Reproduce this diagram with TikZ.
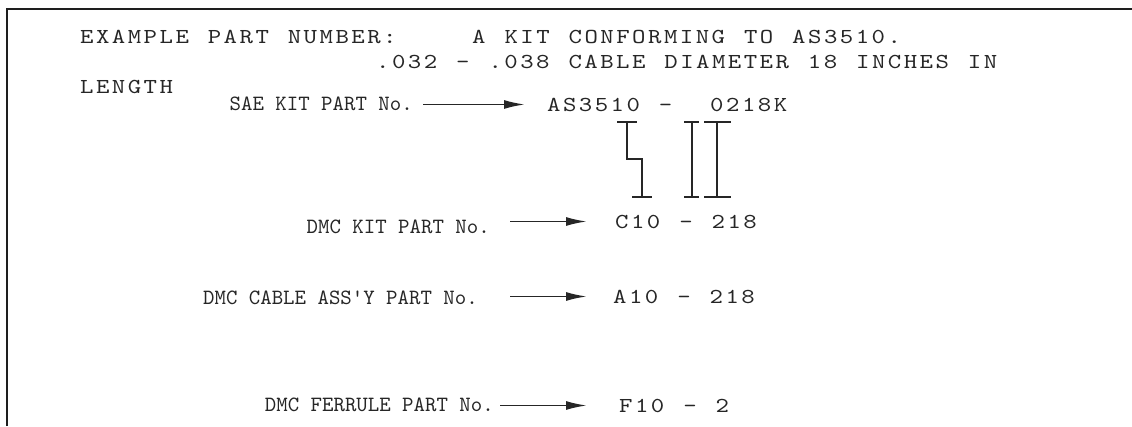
\documentclass[tikz,border=0pt]{standalone}
\usepackage{fontspec}
\usetikzlibrary{arrows.meta}
\newfontfamily\specfont{lmmono10-regular.otf}[FakeStretch=1.2,LetterSpace=11.6,WordSpace=1.19]
\newfontfamily\labelfont{lmmono10-regular.otf}
\definecolor{ink}{HTML}{262626}
\definecolor{frame}{HTML}{1E1E1E}
\tikzset{
  spec/.style={anchor=base west,inner sep=0pt,text=ink,
    font=\specfont\fontsize{21.3}{24}\selectfont},
  partno/.style={spec},
  partlbl/.style={anchor=base east,inner sep=0pt,text=ink,
    font=\labelfont\fontsize{21.8}{24}\selectfont},
  partarrow/.style={draw=ink,line width=1.9pt,-{Latex[length=21pt,width=9pt]}},
  bracket/.style={draw=ink,line width=2.4pt}
}
\begin{document}
\begin{tikzpicture}[x=1pt,y=-1pt]
\useasboundingbox (0,0) rectangle (1132,426);

% Frame
\draw[line width=2.6pt,draw=frame] (7,426) -- (7,9) -- (1132,9);

% Heading
\node[spec] (head1) at (80,43) {EXAMPLE PART NUMBER:~~~~A KIT CONFORMING TO AS3510.};
\node[spec] (head2) at (376,68) {.032 - .038 CABLE DIAMETER 18 INCHES IN};
\node[spec] (head3) at (80,93) {LENGTH};

% Part numbers
\node[partno] (saeno) at (547,111) {AS3510 -~~0218K};
\node[partno] (kitno) at (615,228) {C10 - 218};
\node[partno] (cableno) at (613,303) {A10 - 218};
\node[partno] (ferruleno) at (619,412) {F10 - 2};

% Labels
\node[partlbl] (saelbl) at (413,110) {SAE KIT PART No.};
\node[partlbl] (kitlbl) at (490,233) {DMC KIT PART No.};
\node[partlbl] (cablelbl) at (478,304) {DMC CABLE ASS'Y PART No.};
\node[partlbl] (ferrulelbl) at (494,411) {DMC FERRULE PART No.};

% Arrows
\draw[partarrow,shorten <=10pt,shorten >=22pt] (saelbl.east |- saeno.west) -- (saeno.west);
\draw[partarrow,shorten <=20pt,shorten >=28pt] (kitlbl.east |- kitno.west) -- (kitno.west);
\draw[partarrow,shorten <=32pt,shorten >=26pt] (cablelbl.east |- cableno.west) -- (cableno.west);
\draw[partarrow,shorten <=6pt,shorten >=32pt] (ferrulelbl.east |- ferruleno.west) -- (ferruleno.west);

% Brackets from SAE number to DMC kit number
\draw[bracket] (617,122) -- (637,122);
\draw[bracket] (627,122) -- (627,159) -- (642,159) -- (642,197);
\draw[bracket] (632,197) -- (652,197);
\draw[bracket] (684,122) -- (699,122);
\draw[bracket] (692,122) -- (692,197);
\draw[bracket] (684,197) -- (699,197);
\draw[bracket] (704,122) -- (731,122);
\draw[bracket] (717,122) -- (717,197);
\draw[bracket] (704,197) -- (731,197);

\end{tikzpicture}
\end{document}
